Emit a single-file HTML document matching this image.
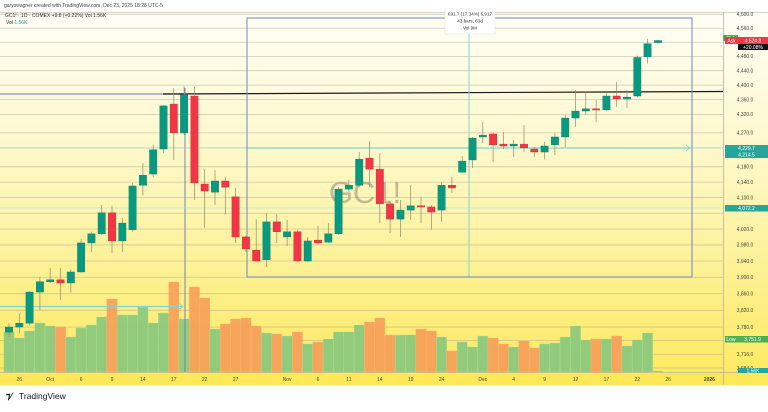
<!DOCTYPE html>
<html><head><meta charset="utf-8"><style>
html,body{margin:0;padding:0;background:#fff;}
body{width:768px;height:407px;overflow:hidden;font-family:"Liberation Sans",sans-serif;}
svg text{font-family:"Liberation Sans",sans-serif;}
</style></head><body>
<svg id="c" width="768" height="407" viewBox="0 0 768 407" xmlns="http://www.w3.org/2000/svg">
<defs>
<linearGradient id="bg" x1="0" y1="0" x2="0" y2="1">
<stop offset="0" stop-color="#fffef6"/><stop offset="0.4" stop-color="#fef8c8"/><stop offset="0.75" stop-color="#fdf08e"/><stop offset="1" stop-color="#fdea62"/>
</linearGradient>
</defs>
<rect x="0" y="12" width="768" height="361" fill="url(#bg)"/>
<rect x="0" y="373" width="768" height="12" fill="#fde957"/>
<line x1="0" y1="12.5" x2="768" y2="12.5" stroke="#d8d6c8" stroke-width="1"/>
<line x1="723.5" y1="12" x2="723.5" y2="385" stroke="#b8b29a" stroke-width="0.8"/>
<line x1="0" y1="372.5" x2="768" y2="372.5" stroke="#b8b29a" stroke-width="0.8"/>
<g id="grid"></g>
<text x="365" y="203" font-size="31" fill="#8a8a78" fill-opacity="0.55" text-anchor="middle">GC1!</text>
<g id="vol"></g>
<g id="draw"></g>
<g id="candles"></g>
<g id="axis"></g>
<text x="4" y="7" font-size="5" fill="#444">garyswagner created with TradingView.com, Dec 23, 2025 18:28 UTC-5</text>
<text x="5" y="17" font-size="5" fill="#333">GC1! · 1D · COMEX  +9.8 (+0.22%)  Vol 1.56K</text>
<text x="6" y="24" font-size="5" fill="#333">Vol <tspan fill="#26a69a">1.56K</tspan></text>
<g>
<rect x="445" y="9" width="50" height="25" fill="#fff" stroke="#e0e0e0" stroke-width="0.5"/>
<text x="470" y="15.5" font-size="4.6" fill="#333" text-anchor="middle">691.7 (17.34%) 6,917</text>
<text x="470" y="22.5" font-size="4.6" fill="#333" text-anchor="middle">43 bars, 63d</text>
<text x="470" y="29.5" font-size="4.6" fill="#333" text-anchor="middle">Vol 9M</text>
</g>
<g>
<text x="6" y="399" font-size="9" font-weight="bold" fill="#131722">⁊⁄</text>
<text x="19" y="399" font-size="8.5" fill="#131722">TradingView</text>
</g>
</svg>
<script>
const opens =[3768,3780,3789,3864,3889,3894,3886,3913,3985,4008,4061,3990,4018,4132,4161,4227,4348,4270,4370,4135,4114,4143,4102,4000,3967,3943,4038,4000,4013,3940,3992,3987,4008,4122,4132,4203,4174,4084,4045,4068,4079,4076,4068,4132,4166,4198,4259,4267,4240,4235,4240,4227,4219,4238,4259,4310,4329,4335,4332,4370,4362,4370,4479,4519];
const highs =[3789,3813,3866,3901,3923,3923,3918,3995,4013,4081,4079,4048,4138,4190,4238,4345,4392,4398,4395,4174,4171,4153,4125,4003,4045,4061,4058,4043,4018,4000,4028,4035,4127,4145,4219,4248,4216,4089,4094,4132,4102,4081,4140,4153,4208,4259,4299,4272,4272,4251,4291,4232,4246,4270,4318,4387,4381,4359,4378,4409,4387,4482,4530,4527];
const lows  =[3756,3765,3784,3820,3886,3845,3862,3911,3962,4005,3960,3962,4013,4106,4153,4216,4198,4264,4094,4023,4081,4056,3985,3962,3938,3925,3985,3977,3938,3938,3982,3985,4005,4114,4127,4127,4035,4010,4000,4043,4035,4018,4038,4112,4164,4177,4243,4192,4227,4206,4219,4206,4200,4211,4232,4286,4318,4299,4329,4340,4337,4367,4460,4516];
const closes=[3780,3789,3864,3889,3894,3886,3913,3985,4008,4061,3990,4035,4130,4158,4225,4343,4270,4373,4138,4117,4143,4127,4000,3970,3940,4038,4013,4013,3940,3990,3985,4008,4122,4132,4200,4174,4084,4045,4068,4079,4076,4063,4132,4125,4195,4256,4264,4238,4235,4240,4230,4219,4235,4259,4310,4329,4335,4332,4370,4362,4367,4477,4516,4524.8];
const volumesK=[80,68,82,98,92,90,70,88,94,110,146,114,114,130,98,118,180,106,170,148,86,96,106,108,92,78,76,72,80,56,60,66,80,80,94,100,108,74,74,74,86,82,70,42,60,50,72,68,56,50,62,48,56,58,70,92,64,66,66,72,52,64,78,2];
const priceTicks=[4600,4560,4520,4480,4440,4400,4360,4320,4270,4230,4180,4140,4100,4060,4020,3980,3940,3900,3860,3820,3780,3748,3716,3684];
const priceTickLabels=["4,600.0","4,560.0","","4,480.0","4,440.0","4,400.0","4,360.0","4,320.0","4,270.0","","4,180.0","4,140.0","4,100.0","","4,020.0","3,980.0","3,940.0","3,900.0","3,860.0","3,820.0","3,780.0","","3,716.0","3,684.0"];
const timeIdx=[1,4,7,10,13,16,19,22,27,30,33,36,39,42,46,49,52,55,58,61,64,68];
const timeLabels=["26","Oct","6","9","14","17","22","27","Nov","6","11","14","19","24","Dec","4","9","12","17","22","26","2026"];

const NS="http://www.w3.org/2000/svg";
function yP(p){return 14.3+1593*Math.log(4600/p);}
function xI(i){return 9+i*10.3;}
function yV(v){return 372-v*0.5;}
function mk(tag,attrs,parent){const e=document.createElementNS(NS,tag);for(const k in attrs)e.setAttribute(k,attrs[k]);parent.appendChild(e);return e;}
const grid=document.getElementById('grid'),axis=document.getElementById('axis'),vol=document.getElementById('vol'),cg=document.getElementById('candles'),dr=document.getElementById('draw');
priceTicks.forEach((p,k)=>{
  const y=yP(p);
  const l=mk('line',{x1:0,x2:723,y1:y,y2:y,stroke:'#a8a48c','stroke-opacity':0.55,'stroke-width':0.8},grid);
  
  
  if(priceTickLabels[k]){
    const t=mk('text',{x:745,y:y+1.8,'font-size':5,fill:'#444','text-anchor':'middle'},axis);
    t.textContent=priceTickLabels[k];
    
    
  }
});
timeIdx.forEach((i,k)=>{
  const t=mk('text',{x:xI(i),y:381,'font-size':5,fill:'#444','text-anchor':'middle','font-weight':k==21?'bold':'normal'},axis);
  t.textContent=timeLabels[k];
  
  
});
volumesK.forEach((v,i)=>{
  const up=closes[i]>=opens[i];
  const r=mk('rect',{x:xI(i)-5.15,y:yV(v),width:10.3,height:372-yV(v),fill:up?'#8cc97c':'#f7a15a','fill-opacity':0.95,stroke:up?'#b5dc8c':'#f8b77a','stroke-width':0.4},vol);
  
  
});
function line(a,n){const l=mk('line',a,dr);return l;}
line({x1:0,x2:185,y1:94,y2:94,stroke:'#7f93c8','stroke-width':1.2},'range-top-line');
line({x1:163,x2:723,y1:94,y2:91.5,stroke:'#1a1a1a','stroke-width':1.2},'resistance-trendline');
line({x1:185,x2:185,y1:88,y2:372,stroke:'#6f86b8','stroke-width':1},'date-range-line');
line({x1:0,x2:183,y1:306.5,y2:306.5,stroke:'#7fd6d0','stroke-width':1.2},'price-range-line');
line({x1:0,x2:723,y1:148,y2:148,stroke:'#8fe0da','stroke-width':0.8,'stroke-opacity':0.7},'level-line-4229');
line({x1:0,x2:723,y1:208,y2:208,stroke:'#8fe0da','stroke-width':0.8,'stroke-opacity':0.7},'level-line-4072');
line({x1:247,x2:690,y1:148,y2:148,stroke:'#7fd6d0','stroke-width':1.2},'measure-price-line');
line({x1:469,x2:469,y1:18,y2:277,stroke:'#7fd6d0','stroke-width':1},'measure-date-line');
const mb=mk('rect',{x:247,y:18,width:445,height:259,fill:'none',stroke:'#6f86c8','stroke-width':1},dr);


mk('path',{d:'M686 145 L690 148 L686 151',fill:'none',stroke:'#7fd6d0','stroke-width':0.8},dr);
mk('path',{d:'M179 303.5 L183 306.5 L179 309.5',fill:'none',stroke:'#7fd6d0','stroke-width':0.8},dr);
opens.forEach((o,i)=>{
  const c=closes[i],up=c>=o,col=up?'#089981':'#f23645',x=xI(i);
  const w=mk('line',{x1:x,x2:x,y1:yP(highs[i]),y2:yP(lows[i]),stroke:'#8a8a70','stroke-width':0.7},cg);
  
  
  const t=Math.min(yP(o),yP(c)),h=Math.max(1.2,Math.abs(yP(o)-yP(c)));
  const b=mk('rect',{x:x-3.7,y:t,width:7.4,height:h,fill:col,stroke:up?'#0a7d6a':'#c92a3a','stroke-width':0.4},cg);
  
  
});
function badge(x,y,w,h,fill,txt,fc,n){
  const g=mk('g',{},axis);
  
  
  mk('rect',{x:x,y:y,width:w,height:h,fill:fill},g);
  const t=mk('text',{x:x+w/2,y:y+h/2+1.8,'font-size':5,fill:fc,'text-anchor':'middle'},g);t.textContent=txt;
}
badge(723,35,15,6,'#4caf50','Bid','#fff','bid-badge');
badge(725,37,13,7,'#f23645','Ask','#fff','ask-badge');
badge(738,37,30,7,'#f23645','4,524.8','#fff','last-price-badge');
badge(738,44,30,6,'#111','+20.08%','#fff','change-badge');
badge(725,145,43,6.5,'#26a69a','4,229.7','#fff','level-badge-4229');
badge(725,151.5,43,6.5,'#26a69a','4,214.5','#fff','level-badge-4214');
badge(725,205,43,6.5,'#26a69a','4,072.2','#fff','level-badge-4072');
badge(725,336,12,6.5,'#4caf50','Low','#fff','low-label-badge');
badge(737,336,31,6.5,'#4caf50','3,751.9','#fff','low-badge');
badge(738,368,30,5,'#26a69a','1.56K','#fff','volume-badge');
</script>
</body></html>
